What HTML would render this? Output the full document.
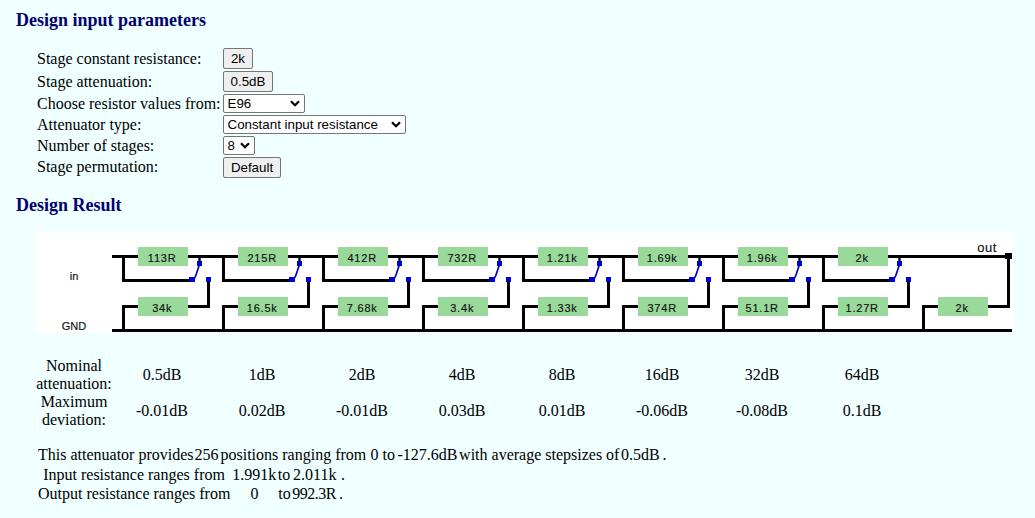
<!DOCTYPE html>
<html><head><meta charset="utf-8">
<style>
html,body{margin:0;padding:0;}
body{width:1035px;height:518px;background:#f0ffff;position:relative;overflow:hidden;font-family:"Liberation Serif",serif;color:#000;}
.h{position:absolute;font-family:"Liberation Serif",serif;font-weight:bold;font-size:18px;line-height:20px;color:#000070;white-space:nowrap;}
.t{position:absolute;font-size:16px;line-height:18px;white-space:nowrap;}
.c{text-align:center;}
.btn{position:absolute;box-sizing:border-box;border:1px solid #767676;border-radius:2px;background:#efefef;font-family:"Liberation Sans",sans-serif;font-size:13.333px;line-height:19px;text-align:center;color:#000;}
.sel{position:absolute;box-sizing:border-box;border:1px solid #767676;border-radius:2px;background:#fff;font-family:"Liberation Sans",sans-serif;font-size:13.333px;line-height:17px;color:#000;}
.sel span{position:absolute;left:3.5px;top:0;}
.sel .chev{position:absolute;right:4px;top:5px;}
svg.diag{position:absolute;left:0;top:0;}
svg.diag text{font-family:"Liberation Sans",sans-serif;fill:#111;stroke:#111;stroke-width:0.15px;}
</style></head><body>
<div class="h" style="left:16px;top:10px">Design input parameters</div>
<div class="t" style="left:37px;top:50.1px">Stage constant resistance:</div>
<div class="btn" style="left:223px;top:48px;width:30px;height:21px">2k</div>
<div class="t" style="left:37px;top:73.1px">Stage attenuation:</div>
<div class="btn" style="left:223px;top:71px;width:50px;height:21px">0.5dB</div>
<div class="t" style="left:37px;top:95.3px">Choose resistor values from:</div>
<div class="sel" style="left:223px;top:94px;width:82px;height:19px"><span>E96</span><svg class="chev" width="10" height="7" viewBox="0 0 10 7"><path d="M1 1.2 L5 5.2 L9 1.2" fill="none" stroke="#000" stroke-width="2.2"/></svg></div>
<div class="t" style="left:37px;top:116.2px">Attenuator type:</div>
<div class="sel" style="left:223px;top:115px;width:183px;height:19px"><span>Constant input resistance</span><svg class="chev" width="10" height="7" viewBox="0 0 10 7"><path d="M1 1.2 L5 5.2 L9 1.2" fill="none" stroke="#000" stroke-width="2.2"/></svg></div>
<div class="t" style="left:37px;top:137.4px">Number of stages:</div>
<div class="sel" style="left:223px;top:136px;width:32px;height:19px"><span>8</span><svg class="chev" width="10" height="7" viewBox="0 0 10 7"><path d="M1 1.2 L5 5.2 L9 1.2" fill="none" stroke="#000" stroke-width="2.2"/></svg></div>
<div class="t" style="left:37px;top:158.2px">Stage permutation:</div>
<div class="btn" style="left:223px;top:157px;width:58px;height:21px">Default</div>
<div class="h" style="left:16px;top:195px">Design Result</div>
<div style="position:absolute;left:36px;top:232px;width:977px;height:101px;background:#fff"></div>
<svg class="diag" width="1035" height="518" viewBox="0 0 1035 518">
<rect x="112" y="255" width="898" height="3" fill="#000"/>
<rect x="112" y="329" width="900" height="3" fill="#000"/>
<rect x="122" y="255" width="3" height="27" fill="#000"/>
<rect x="122" y="279" width="70" height="3" fill="#000"/>
<rect x="138" y="247" width="50" height="19" fill="#99d99a"/>
<text x="162.2" y="261.5" font-size="11" text-anchor="middle" letter-spacing="0.8">113R</text>
<rect x="198.3" y="257" width="2.4" height="5" fill="#000"/>
<rect x="197" y="261" width="5" height="5" fill="#0000d0"/>
<rect x="189" y="277" width="6" height="5" fill="#0000d0"/>
<path d="M199.3 265 L196 275 Q195 278 193.5 279" fill="none" stroke="#0000d0" stroke-width="1.7"/>
<rect x="206" y="277" width="5" height="5" fill="#0000d0"/>
<rect x="207" y="282" width="3" height="26" fill="#000"/>
<rect x="188" y="305" width="22" height="3" fill="#000"/>
<rect x="122" y="305" width="16" height="3" fill="#000"/>
<rect x="122" y="305" width="3" height="27" fill="#000"/>
<rect x="138" y="297" width="50" height="19" fill="#99d99a"/>
<text x="162.2" y="311.5" font-size="11" text-anchor="middle" letter-spacing="0.8">34k</text>
<rect x="222" y="255" width="3" height="27" fill="#000"/>
<rect x="222" y="279" width="70" height="3" fill="#000"/>
<rect x="238" y="247" width="50" height="19" fill="#99d99a"/>
<text x="262.2" y="261.5" font-size="11" text-anchor="middle" letter-spacing="0.8">215R</text>
<rect x="298.3" y="257" width="2.4" height="5" fill="#000"/>
<rect x="297" y="261" width="5" height="5" fill="#0000d0"/>
<rect x="289" y="277" width="6" height="5" fill="#0000d0"/>
<path d="M299.3 265 L296 275 Q295 278 293.5 279" fill="none" stroke="#0000d0" stroke-width="1.7"/>
<rect x="306" y="277" width="5" height="5" fill="#0000d0"/>
<rect x="307" y="282" width="3" height="26" fill="#000"/>
<rect x="288" y="305" width="22" height="3" fill="#000"/>
<rect x="222" y="305" width="16" height="3" fill="#000"/>
<rect x="222" y="305" width="3" height="27" fill="#000"/>
<rect x="238" y="297" width="50" height="19" fill="#99d99a"/>
<text x="262.2" y="311.5" font-size="11" text-anchor="middle" letter-spacing="0.8">16.5k</text>
<rect x="322" y="255" width="3" height="27" fill="#000"/>
<rect x="322" y="279" width="70" height="3" fill="#000"/>
<rect x="338" y="247" width="50" height="19" fill="#99d99a"/>
<text x="362.2" y="261.5" font-size="11" text-anchor="middle" letter-spacing="0.8">412R</text>
<rect x="398.3" y="257" width="2.4" height="5" fill="#000"/>
<rect x="397" y="261" width="5" height="5" fill="#0000d0"/>
<rect x="389" y="277" width="6" height="5" fill="#0000d0"/>
<path d="M399.3 265 L396 275 Q395 278 393.5 279" fill="none" stroke="#0000d0" stroke-width="1.7"/>
<rect x="406" y="277" width="5" height="5" fill="#0000d0"/>
<rect x="407" y="282" width="3" height="26" fill="#000"/>
<rect x="388" y="305" width="22" height="3" fill="#000"/>
<rect x="322" y="305" width="16" height="3" fill="#000"/>
<rect x="322" y="305" width="3" height="27" fill="#000"/>
<rect x="338" y="297" width="50" height="19" fill="#99d99a"/>
<text x="362.2" y="311.5" font-size="11" text-anchor="middle" letter-spacing="0.8">7.68k</text>
<rect x="422" y="255" width="3" height="27" fill="#000"/>
<rect x="422" y="279" width="70" height="3" fill="#000"/>
<rect x="438" y="247" width="50" height="19" fill="#99d99a"/>
<text x="462.2" y="261.5" font-size="11" text-anchor="middle" letter-spacing="0.8">732R</text>
<rect x="498.3" y="257" width="2.4" height="5" fill="#000"/>
<rect x="497" y="261" width="5" height="5" fill="#0000d0"/>
<rect x="489" y="277" width="6" height="5" fill="#0000d0"/>
<path d="M499.3 265 L496 275 Q495 278 493.5 279" fill="none" stroke="#0000d0" stroke-width="1.7"/>
<rect x="506" y="277" width="5" height="5" fill="#0000d0"/>
<rect x="507" y="282" width="3" height="26" fill="#000"/>
<rect x="488" y="305" width="22" height="3" fill="#000"/>
<rect x="422" y="305" width="16" height="3" fill="#000"/>
<rect x="422" y="305" width="3" height="27" fill="#000"/>
<rect x="438" y="297" width="50" height="19" fill="#99d99a"/>
<text x="462.2" y="311.5" font-size="11" text-anchor="middle" letter-spacing="0.8">3.4k</text>
<rect x="522" y="255" width="3" height="27" fill="#000"/>
<rect x="522" y="279" width="70" height="3" fill="#000"/>
<rect x="538" y="247" width="50" height="19" fill="#99d99a"/>
<text x="562.2" y="261.5" font-size="11" text-anchor="middle" letter-spacing="0.8">1.21k</text>
<rect x="598.3" y="257" width="2.4" height="5" fill="#000"/>
<rect x="597" y="261" width="5" height="5" fill="#0000d0"/>
<rect x="589" y="277" width="6" height="5" fill="#0000d0"/>
<path d="M599.3 265 L596 275 Q595 278 593.5 279" fill="none" stroke="#0000d0" stroke-width="1.7"/>
<rect x="606" y="277" width="5" height="5" fill="#0000d0"/>
<rect x="607" y="282" width="3" height="26" fill="#000"/>
<rect x="588" y="305" width="22" height="3" fill="#000"/>
<rect x="522" y="305" width="16" height="3" fill="#000"/>
<rect x="522" y="305" width="3" height="27" fill="#000"/>
<rect x="538" y="297" width="50" height="19" fill="#99d99a"/>
<text x="562.2" y="311.5" font-size="11" text-anchor="middle" letter-spacing="0.8">1.33k</text>
<rect x="622" y="255" width="3" height="27" fill="#000"/>
<rect x="622" y="279" width="70" height="3" fill="#000"/>
<rect x="638" y="247" width="50" height="19" fill="#99d99a"/>
<text x="662.2" y="261.5" font-size="11" text-anchor="middle" letter-spacing="0.8">1.69k</text>
<rect x="698.3" y="257" width="2.4" height="5" fill="#000"/>
<rect x="697" y="261" width="5" height="5" fill="#0000d0"/>
<rect x="689" y="277" width="6" height="5" fill="#0000d0"/>
<path d="M699.3 265 L696 275 Q695 278 693.5 279" fill="none" stroke="#0000d0" stroke-width="1.7"/>
<rect x="706" y="277" width="5" height="5" fill="#0000d0"/>
<rect x="707" y="282" width="3" height="26" fill="#000"/>
<rect x="688" y="305" width="22" height="3" fill="#000"/>
<rect x="622" y="305" width="16" height="3" fill="#000"/>
<rect x="622" y="305" width="3" height="27" fill="#000"/>
<rect x="638" y="297" width="50" height="19" fill="#99d99a"/>
<text x="662.2" y="311.5" font-size="11" text-anchor="middle" letter-spacing="0.8">374R</text>
<rect x="722" y="255" width="3" height="27" fill="#000"/>
<rect x="722" y="279" width="70" height="3" fill="#000"/>
<rect x="738" y="247" width="50" height="19" fill="#99d99a"/>
<text x="762.2" y="261.5" font-size="11" text-anchor="middle" letter-spacing="0.8">1.96k</text>
<rect x="798.3" y="257" width="2.4" height="5" fill="#000"/>
<rect x="797" y="261" width="5" height="5" fill="#0000d0"/>
<rect x="789" y="277" width="6" height="5" fill="#0000d0"/>
<path d="M799.3 265 L796 275 Q795 278 793.5 279" fill="none" stroke="#0000d0" stroke-width="1.7"/>
<rect x="806" y="277" width="5" height="5" fill="#0000d0"/>
<rect x="807" y="282" width="3" height="26" fill="#000"/>
<rect x="788" y="305" width="22" height="3" fill="#000"/>
<rect x="722" y="305" width="16" height="3" fill="#000"/>
<rect x="722" y="305" width="3" height="27" fill="#000"/>
<rect x="738" y="297" width="50" height="19" fill="#99d99a"/>
<text x="762.2" y="311.5" font-size="11" text-anchor="middle" letter-spacing="0.8">51.1R</text>
<rect x="822" y="255" width="3" height="27" fill="#000"/>
<rect x="822" y="279" width="70" height="3" fill="#000"/>
<rect x="838" y="247" width="50" height="19" fill="#99d99a"/>
<text x="862.2" y="261.5" font-size="11" text-anchor="middle" letter-spacing="0.8">2k</text>
<rect x="898.3" y="257" width="2.4" height="5" fill="#000"/>
<rect x="897" y="261" width="5" height="5" fill="#0000d0"/>
<rect x="889" y="277" width="6" height="5" fill="#0000d0"/>
<path d="M899.3 265 L896 275 Q895 278 893.5 279" fill="none" stroke="#0000d0" stroke-width="1.7"/>
<rect x="906" y="277" width="5" height="5" fill="#0000d0"/>
<rect x="907" y="282" width="3" height="26" fill="#000"/>
<rect x="888" y="305" width="22" height="3" fill="#000"/>
<rect x="822" y="305" width="16" height="3" fill="#000"/>
<rect x="822" y="305" width="3" height="27" fill="#000"/>
<rect x="838" y="297" width="50" height="19" fill="#99d99a"/>
<text x="862.2" y="311.5" font-size="11" text-anchor="middle" letter-spacing="0.8">1.27R</text>
<rect x="922" y="305" width="3" height="27" fill="#000"/>
<rect x="922" y="305" width="16" height="3" fill="#000"/>
<rect x="938" y="297" width="50" height="19" fill="#99d99a"/>
<text x="962.2" y="311.5" font-size="11" text-anchor="middle" letter-spacing="0.8">2k</text>
<rect x="988" y="305" width="22" height="3" fill="#000"/>
<rect x="1007" y="256" width="3" height="52" fill="#000"/>
<rect x="1005" y="253" width="7" height="6" fill="#000"/>
<text x="987" y="252" font-size="13" text-anchor="middle" letter-spacing="0.5">out</text>
<text x="74" y="280" font-size="11" text-anchor="middle" letter-spacing="0">in</text>
<text x="74" y="329.8" font-size="11" text-anchor="middle" letter-spacing="0">GND</text>
</svg>
<div class="t c" style="left:24px;width:100px;top:357.1px">Nominal<br>attenuation:</div>
<div class="t c" style="left:24px;width:100px;top:393.3px">Maximum<br>deviation:</div>
<div class="t c" style="left:112px;width:100px;top:366.2px">0.5dB</div>
<div class="t c" style="left:112px;width:100px;top:401.5px">-0.01dB</div>
<div class="t c" style="left:212px;width:100px;top:366.2px">1dB</div>
<div class="t c" style="left:212px;width:100px;top:401.5px">0.02dB</div>
<div class="t c" style="left:312px;width:100px;top:366.2px">2dB</div>
<div class="t c" style="left:312px;width:100px;top:401.5px">-0.01dB</div>
<div class="t c" style="left:412px;width:100px;top:366.2px">4dB</div>
<div class="t c" style="left:412px;width:100px;top:401.5px">0.03dB</div>
<div class="t c" style="left:512px;width:100px;top:366.2px">8dB</div>
<div class="t c" style="left:512px;width:100px;top:401.5px">0.01dB</div>
<div class="t c" style="left:612px;width:100px;top:366.2px">16dB</div>
<div class="t c" style="left:612px;width:100px;top:401.5px">-0.06dB</div>
<div class="t c" style="left:712px;width:100px;top:366.2px">32dB</div>
<div class="t c" style="left:712px;width:100px;top:401.5px">-0.08dB</div>
<div class="t c" style="left:812px;width:100px;top:366.2px">64dB</div>
<div class="t c" style="left:812px;width:100px;top:401.5px">0.1dB</div>
<div class="t" style="left:38.0px;top:446.2px">This attenuator provides</div>
<div class="t" style="left:194.5px;top:446.2px">256</div>
<div class="t" style="left:220.5px;top:446.2px">positions ranging from</div>
<div class="t" style="left:370.4px;top:446.2px">0</div>
<div class="t" style="left:382.6px;top:446.2px">to</div>
<div class="t" style="left:397.4px;top:446.2px">-127.6dB</div>
<div class="t" style="left:459.1px;top:446.2px">with average stepsizes</div>
<div class="t" style="left:606.0px;top:446.2px">of</div>
<div class="t" style="left:620.9px;top:446.2px">0.5dB</div>
<div class="t" style="left:662.6px;top:446.2px">.</div>
<div class="t" style="left:43.2px;top:465.9px">Input resistance ranges from</div>
<div class="t" style="left:232.2px;top:465.9px">1.991k</div>
<div class="t" style="left:277.7px;top:465.9px">to</div>
<div class="t" style="left:293.0px;top:465.9px">2.011k</div>
<div class="t" style="left:341.0px;top:465.9px">.</div>
<div class="t" style="left:38.0px;top:485.0px">Output resistance ranges from</div>
<div class="t" style="left:250.4px;top:485.0px">0</div>
<div class="t" style="left:278.3px;top:485.0px">to</div>
<div class="t" style="left:292.2px;top:485.0px"><span style="letter-spacing:-0.5px">992.3R</span></div>
<div class="t" style="left:339.0px;top:485.0px">.</div>
</body></html>
